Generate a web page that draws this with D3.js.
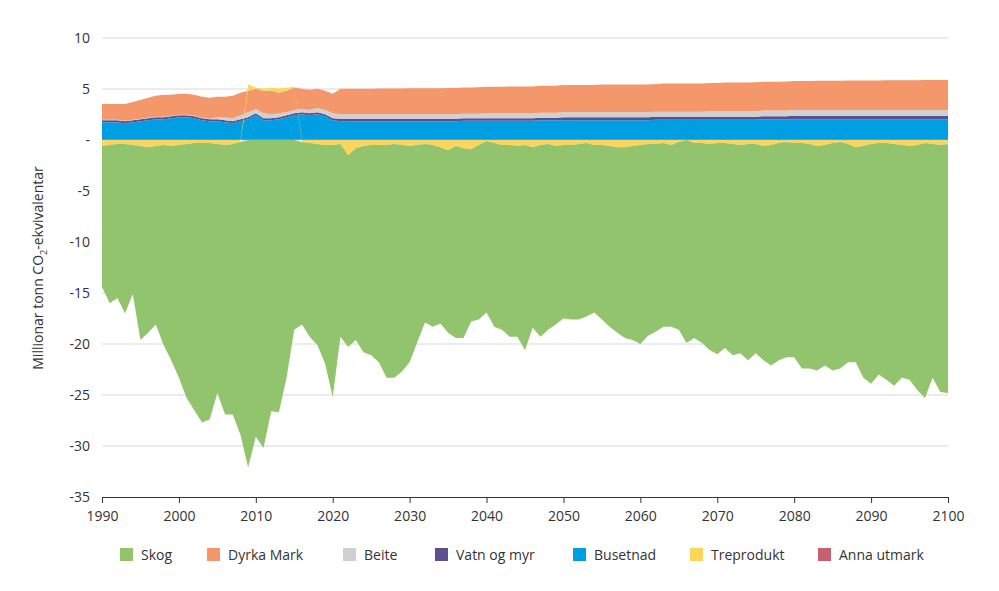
<!DOCTYPE html>
<html><head><meta charset="utf-8">
<script src="https://cdn.jsdelivr.net/npm/d3@7"></script>
<style>body{margin:0;background:#fff}text{font-family:"Open Sans",sans-serif;fill:#333}</style>
</head><body><svg id="c" width="999" height="591"></svg>
<script>
const years = d3.range(1990, 2101);
const yTicks = [10,5,0,-5,-10,-15,-20,-25,-30,-35];
const xTicks = [1990,2000,2010,2020,2030,2040,2050,2060,2070,2080,2090,2100];
const seriesNames = ["Skog","Dyrka Mark","Beite","Vatn og myr","Busetnad","Treprodukt","Anna utmark"];
const colors = ["#92c46e","#f4976b","#d0d0d0","#5c4f8f","#009fe3","#fcd55a","#c8606e"];

// net lower edge (Skog + Treprodukt)
const landTotal = [-14.4,-16,-15.5,-17,-15.1,-19.6,-18.9,-18.1,-20.1,-21.6,
-23.3,-25.3,-26.5,-27.7,-27.4,-24.8,-26.9,-26.9,-28.9,-32.1,
-29.1,-30.2,-26.6,-26.7,-23.3,-18.6,-18.1,-19.3,-20.1,-21.9,
-25.2,-19.3,-20.3,-19.6,-20.8,-21.1,-21.8,-23.3,-23.3,-22.7,
-21.8,-19.8,-17.9,-18.3,-18,-18.9,-19.4,-19.4,-17.8,-17.6,
-16.9,-18.3,-18.6,-19.3,-19.3,-20.6,-18.4,-19.3,-18.6,-18.1,
-17.5,-17.6,-17.6,-17.3,-16.9,-17.6,-18.3,-18.9,-19.4,-19.6,
-20,-19.2,-18.8,-18.3,-18.3,-18.6,-19.9,-19.4,-19.9,-20.6,
-21,-20.4,-21.1,-20.9,-21.6,-20.9,-21.6,-22.1,-21.6,-21.3,
-21.3,-22.4,-22.4,-22.6,-22.1,-22.6,-22.4,-21.8,-21.8,-23.3,
-23.9,-23,-23.5,-24.1,-23.3,-23.5,-24.5,-25.3,-23.3,-24.7,-24.8];
const treprodukt = [-0.6,-0.5,-0.4,-0.4,-0.5,-0.6,-0.7,-0.6,-0.5,-0.6,
-0.5,-0.4,-0.3,-0.3,-0.3,-0.4,-0.5,-0.4,-0.2,0.6,
0.1,0.2,0.3,0.4,0.3,0.1,-0.2,-0.3,-0.4,-0.5,
-0.5,-0.4,-1.5,-0.8,-0.6,-0.5,-0.5,-0.5,-0.4,-0.5,
-0.6,-0.5,-0.4,-0.5,-0.7,-1.0,-0.6,-0.8,-0.9,-0.5,
-0.1,-0.3,-0.5,-0.5,-0.6,-0.5,-0.7,-0.5,-0.4,-0.6,
-0.5,-0.5,-0.4,-0.3,-0.5,-0.5,-0.6,-0.7,-0.7,-0.6,
-0.5,-0.4,-0.4,-0.3,-0.5,-0.2,0,-0.3,-0.3,-0.4,
-0.3,-0.3,-0.4,-0.5,-0.4,-0.4,-0.6,-0.5,-0.3,-0.2,
-0.3,-0.3,-0.4,-0.6,-0.5,-0.3,-0.2,-0.4,-0.7,-0.6,
-0.4,-0.3,-0.3,-0.4,-0.5,-0.6,-0.5,-0.3,-0.4,-0.5,-0.4];
const skog = landTotal.map((t,i)=> +(t - Math.min(treprodukt[i],0)).toFixed(2));
const busetnad = [1.7,1.7,1.7,1.6,1.7,1.8,1.9,2.0,2.0,2.1,
2.2,2.2,2.1,1.9,1.8,1.8,1.7,1.6,1.8,2.0,
2.4,1.9,1.9,2.0,2.2,2.4,2.5,2.4,2.5,2.3,
1.9,1.8,1.8,1.8,1.8,1.8,1.8,1.8,1.8,1.8,
1.8,1.8,1.8,1.8,1.8,1.8,1.8,1.85,1.85,1.85,
1.85,1.85,1.85,1.85,1.85,1.85,1.85,1.9,1.9,1.9,
1.9,1.9,1.9,1.9,1.9,1.9,1.9,1.9,1.9,1.9,
1.9,1.9,1.95,1.95,1.95,1.95,1.95,1.95,1.95,1.95,
1.95,1.95,1.95,1.95,1.95,1.95,2.0,2.0,2.0,2.0,
2.0,2.0,2.0,2.0,2.0,2.0,2.0,2.0,2.0,2.0,
2.0,2.0,2.0,2.0,2.0,2.0,2.0,2.0,2.0,2.0,2.0];
const vatn = [0.2,0.2,0.2,0.2,0.2,0.2,0.2,0.2,0.2,0.2,
0.2,0.2,0.2,0.2,0.2,0.2,0.2,0.2,0.2,0.2,
0.2,0.2,0.2,0.2,0.2,0.2,0.2,0.2,0.2,0.2,
0.2,0.25,0.25,0.25,0.25,0.25,0.25,0.25,0.25,0.25,
0.25,0.25,0.25,0.25,0.25,0.25,0.25,0.25,0.25,0.25,
0.25,0.25,0.25,0.25,0.25,0.25,0.25,0.25,0.25,0.25,
0.3,0.3,0.3,0.3,0.3,0.3,0.3,0.3,0.3,0.3,
0.3,0.3,0.3,0.3,0.3,0.3,0.3,0.3,0.3,0.3,
0.3,0.3,0.3,0.3,0.3,0.3,0.3,0.3,0.3,0.3,
0.35,0.35,0.35,0.35,0.35,0.35,0.35,0.35,0.35,0.35,
0.35,0.35,0.35,0.35,0.35,0.35,0.35,0.35,0.35,0.35,0.35];
const beite = [0.05,0.05,0.05,0.05,0.05,0.05,0.05,0.05,0.05,0.05,
0.05,0.05,0.05,0.05,0.05,0.2,0.3,0.3,0.4,0.5,
0.4,0.5,0.4,0.4,0.3,0.3,0.3,0.3,0.4,0.4,
0.5,0.45,0.45,0.45,0.45,0.45,0.45,0.45,0.45,0.45,
0.45,0.45,0.45,0.45,0.45,0.45,0.45,0.45,0.45,0.45,
0.5,0.5,0.5,0.5,0.5,0.5,0.5,0.5,0.5,0.5,
0.5,0.5,0.5,0.5,0.5,0.5,0.5,0.5,0.5,0.5,
0.5,0.5,0.5,0.5,0.5,0.5,0.5,0.5,0.5,0.55,
0.55,0.55,0.55,0.55,0.55,0.55,0.55,0.55,0.55,0.55,
0.55,0.55,0.55,0.55,0.55,0.55,0.55,0.55,0.55,0.55,
0.55,0.55,0.55,0.55,0.55,0.55,0.55,0.55,0.55,0.55,0.55];
const dyrka = [1.55,1.55,1.55,1.65,1.75,1.85,1.95,2.05,2.15,2.05,
2.05,2.05,2.05,2.05,2.05,2.0,2.0,2.2,2.2,2.1,
2.0,2.2,2.3,2.0,2.1,2.2,2.0,2.0,1.9,1.9,
1.9,2.5,2.5,2.5,2.5,2.5,2.52,2.52,2.52,2.52,
2.55,2.55,2.55,2.55,2.55,2.57,2.57,2.57,2.57,2.6,
2.6,2.6,2.6,2.62,2.62,2.62,2.62,2.65,2.65,2.65,
2.65,2.67,2.67,2.67,2.67,2.7,2.7,2.7,2.7,2.72,
2.72,2.72,2.72,2.75,2.75,2.75,2.75,2.77,2.77,2.77,
2.77,2.8,2.8,2.8,2.8,2.82,2.82,2.82,2.82,2.85,
2.85,2.85,2.85,2.87,2.87,2.87,2.87,2.9,2.9,2.9,
2.9,2.9,2.92,2.92,2.92,2.92,2.92,2.95,2.95,2.95,2.95];
const annaUtmark = years.map(()=>0.03);

const rows = years.map((y,i)=>({year:y,"Skog":skog[i],"Dyrka Mark":dyrka[i],"Beite":beite[i],
 "Vatn og myr":vatn[i],"Busetnad":busetnad[i],"Treprodukt":treprodukt[i],"Anna utmark":annaUtmark[i]}));

const svg = d3.select("#c");
const x = d3.scaleLinear().domain([1990,2100]).range([102,948]);
const y = d3.scaleLinear().domain([-35,10]).range([497,38]);

svg.append("g").selectAll("line").data(yTicks.filter(d=>d!==-35)).join("line")
 .attr("x1",102).attr("x2",948).attr("y1",d=>y(d)).attr("y2",d=>y(d))
 .attr("stroke","#d9d9d9").attr("stroke-width",1);

const stackKeys = ["Anna utmark","Busetnad","Vatn og myr","Beite","Dyrka Mark","Treprodukt","Skog"];
const stacked = d3.stack().keys(stackKeys).offset(d3.stackOffsetDiverging)(rows);
const area = d3.area().x(d=>x(d.data.year)).y0(d=>y(d[0])).y1(d=>y(d[1]));
svg.append("g").selectAll("path").data(stacked).join("path")
 .attr("d",area).attr("fill",d=>colors[seriesNames.indexOf(d.key)]);

svg.append("g").selectAll("text").data(yTicks).join("text")
 .attr("x",90).attr("y",d=>y(d)+5).attr("text-anchor","end").attr("font-size",14)
 .text(d=>d===0?"-":d);

const xa = svg.append("g").attr("transform","translate(0,497)")
 .call(d3.axisBottom(x).tickValues(xTicks).tickFormat(d3.format("d")).tickSize(6).tickSizeOuter(0));
xa.select(".domain").attr("stroke","#333");
xa.selectAll("line").attr("stroke","#333");
xa.selectAll("text").attr("font-size",14).attr("dy","1.05em").style("font-family","'Open Sans',sans-serif").attr("fill","#333");

const t = svg.append("text").attr("transform","translate(43,268) rotate(-90)")
 .attr("text-anchor","middle").attr("font-size",14);
t.append("tspan").text("Millionar tonn CO");
t.append("tspan").attr("font-size",9).attr("dy",4).text("2");
t.append("tspan").attr("dy",-4).text("-ekvivalentar");

const legX = [120,207,343,435,573,690,818];
const lg = svg.append("g").selectAll("g").data(seriesNames).join("g")
 .attr("transform",(d,i)=>`translate(${legX[i]},548)`);
lg.append("rect").attr("width",13).attr("height",13).attr("fill",(d,i)=>colors[i]);
lg.append("text").attr("x",21).attr("y",12).attr("font-size",14).text(d=>d);
</script></body></html>
